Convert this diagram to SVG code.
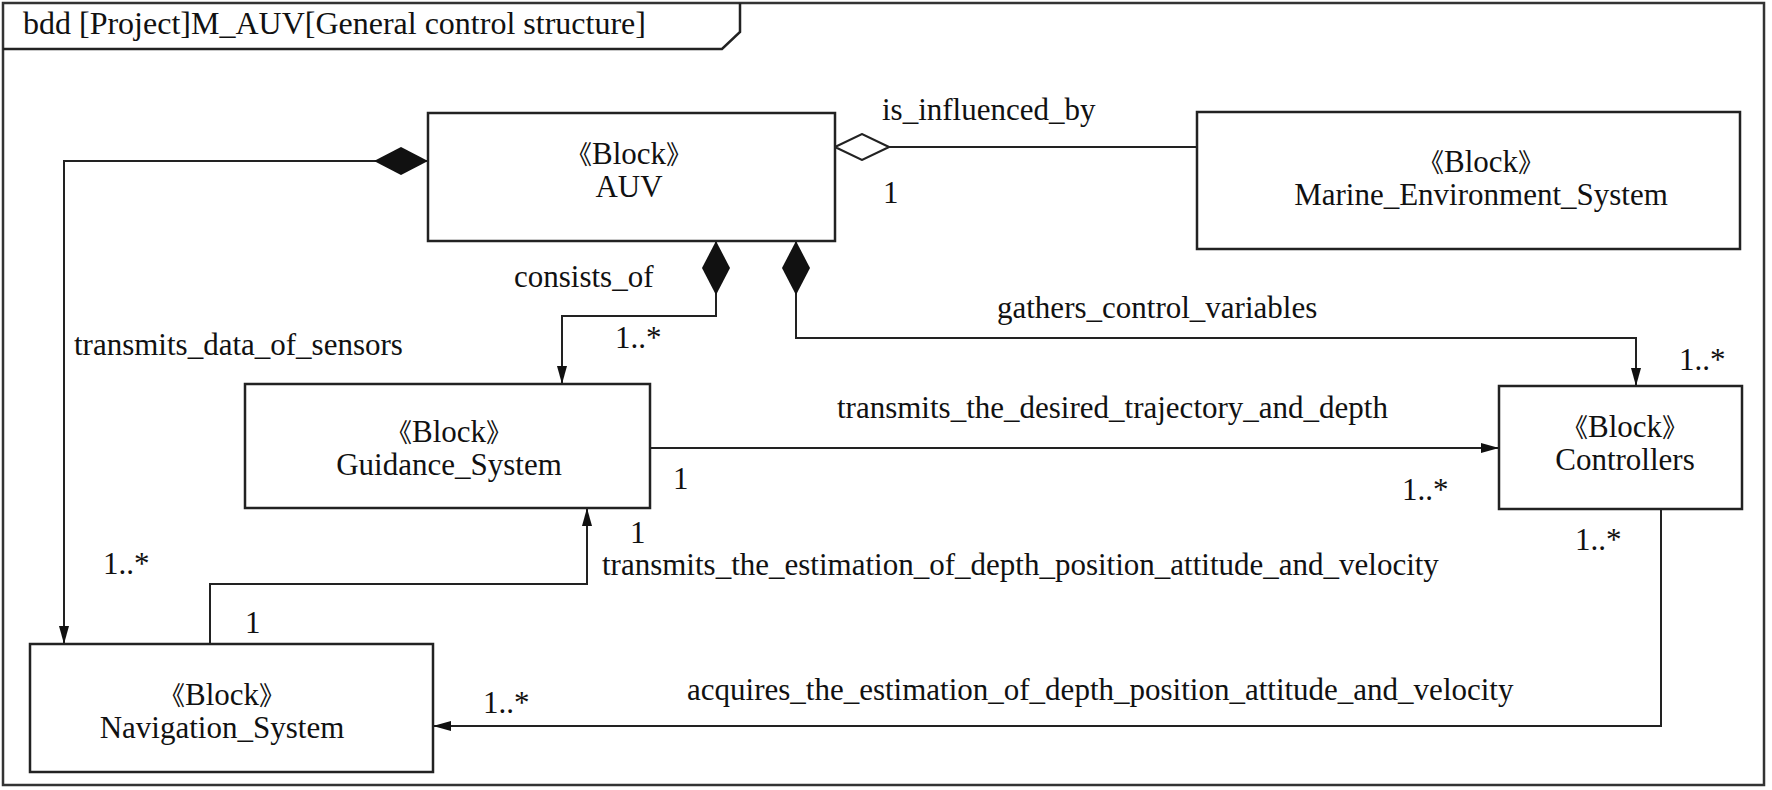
<svg xmlns="http://www.w3.org/2000/svg" width="1772" height="790" viewBox="0 0 1772 790">
<style>
text{font-family:'Liberation Serif','Times New Roman','DejaVu Serif',serif;font-size:31px;fill:#111}
.br{font-family:'Noto Sans CJK SC','Noto Sans CJK JP',sans-serif;font-size:26px}
.box{fill:#fff;stroke:#222;stroke-width:2.5}
.frame{fill:#fff;stroke:#333;stroke-width:2.5}
.c{fill:none;stroke:#222;stroke-width:2}
.mid{text-anchor:middle}
</style>
<defs>
<marker id="arrow" viewBox="0 0 18 10" refX="18" refY="5" markerWidth="18" markerHeight="10" markerUnits="userSpaceOnUse" orient="auto">
<path d="M0,0 L18,5 L0,10 Z" fill="#111"/>
</marker>
<marker id="diamond" viewBox="0 0 54 28" refX="0" refY="14" markerWidth="54" markerHeight="28" markerUnits="userSpaceOnUse" orient="auto">
<path d="M0,14 L27,0 L54,14 L27,28 Z" fill="#111"/>
</marker>
<marker id="hollow" viewBox="-1 -1 56 28" refX="0" refY="13" markerWidth="56" markerHeight="28" markerUnits="userSpaceOnUse" orient="auto">
<path d="M0,13 L27,0 L54,13 L27,26 Z" fill="#fff" stroke="#222" stroke-width="2"/>
</marker>
</defs>
<g id="frame">
<rect class="frame" x="3" y="3" width="1761" height="782"/>
<path d="M3,49 L722,49 L740,32 L740,3" fill="none" stroke="#222" stroke-width="2.5"/>
<text x="23" y="34" style="font-size:32px">bdd [Project]M_AUV[General control structure]</text>
</g>
<g id="connectors">
<path class="c" d="M428,161 L64,161 L64,644" marker-start="url(#diamond)" marker-end="url(#arrow)"/>
<path class="c" d="M835,147 L1197,147" marker-start="url(#hollow)"/>
<path class="c" d="M716,241 L716,316 L562,316 L562,384" marker-start="url(#diamond)" marker-end="url(#arrow)"/>
<path class="c" d="M796,241 L796,338 L1636,338 L1636,386" marker-start="url(#diamond)" marker-end="url(#arrow)"/>
<path class="c" d="M650,448 L1499,448" marker-end="url(#arrow)"/>
<path class="c" d="M210,644 L210,584 L587,584 L587,508" marker-end="url(#arrow)"/>
<path class="c" d="M1661,509 L1661,726 L433,726" marker-end="url(#arrow)"/>
<text x="882" y="120">is_influenced_by</text>
<text x="883" y="203">1</text>
<text x="514" y="287">consists_of</text>
<text x="615" y="348">1..*</text>
<text x="997" y="318">gathers_control_variables</text>
<text x="1679" y="370">1..*</text>
<text x="74" y="355">transmits_data_of_sensors</text>
<text x="837" y="418">transmits_the_desired_trajectory_and_depth</text>
<text x="673" y="489">1</text>
<text x="1402" y="500">1..*</text>
<text x="630" y="543">1</text>
<text x="602" y="575">transmits_the_estimation_of_depth_position_attitude_and_velocity</text>
<text x="1575" y="550">1..*</text>
<text x="103" y="574">1..*</text>
<text x="245" y="633">1</text>
<text x="483" y="713">1..*</text>
<text x="687" y="700">acquires_the_estimation_of_depth_position_attitude_and_velocity</text>
</g>
<g id="auv">
<rect class="box" x="428" y="113" width="407" height="128"/>
<text class="mid" x="629" y="164"><tspan class="br">《</tspan>Block<tspan class="br">》</tspan></text>
<text class="mid" x="629" y="197">AUV</text>
</g>
<g id="marine">
<rect class="box" x="1197" y="112" width="543" height="137"/>
<text class="mid" x="1481" y="172"><tspan class="br">《</tspan>Block<tspan class="br">》</tspan></text>
<text class="mid" x="1481" y="205">Marine_Environment_System</text>
</g>
<g id="guidance">
<rect class="box" x="245" y="384" width="405" height="124"/>
<text class="mid" x="449" y="442"><tspan class="br">《</tspan>Block<tspan class="br">》</tspan></text>
<text class="mid" x="449" y="475">Guidance_System</text>
</g>
<g id="controllers">
<rect class="box" x="1499" y="386" width="243" height="123"/>
<text class="mid" x="1625" y="437"><tspan class="br">《</tspan>Block<tspan class="br">》</tspan></text>
<text class="mid" x="1625" y="470">Controllers</text>
</g>
<g id="navigation">
<rect class="box" x="30" y="644" width="403" height="128"/>
<text class="mid" x="222" y="705"><tspan class="br">《</tspan>Block<tspan class="br">》</tspan></text>
<text class="mid" x="222" y="738">Navigation_System</text>
</g>
</svg>
